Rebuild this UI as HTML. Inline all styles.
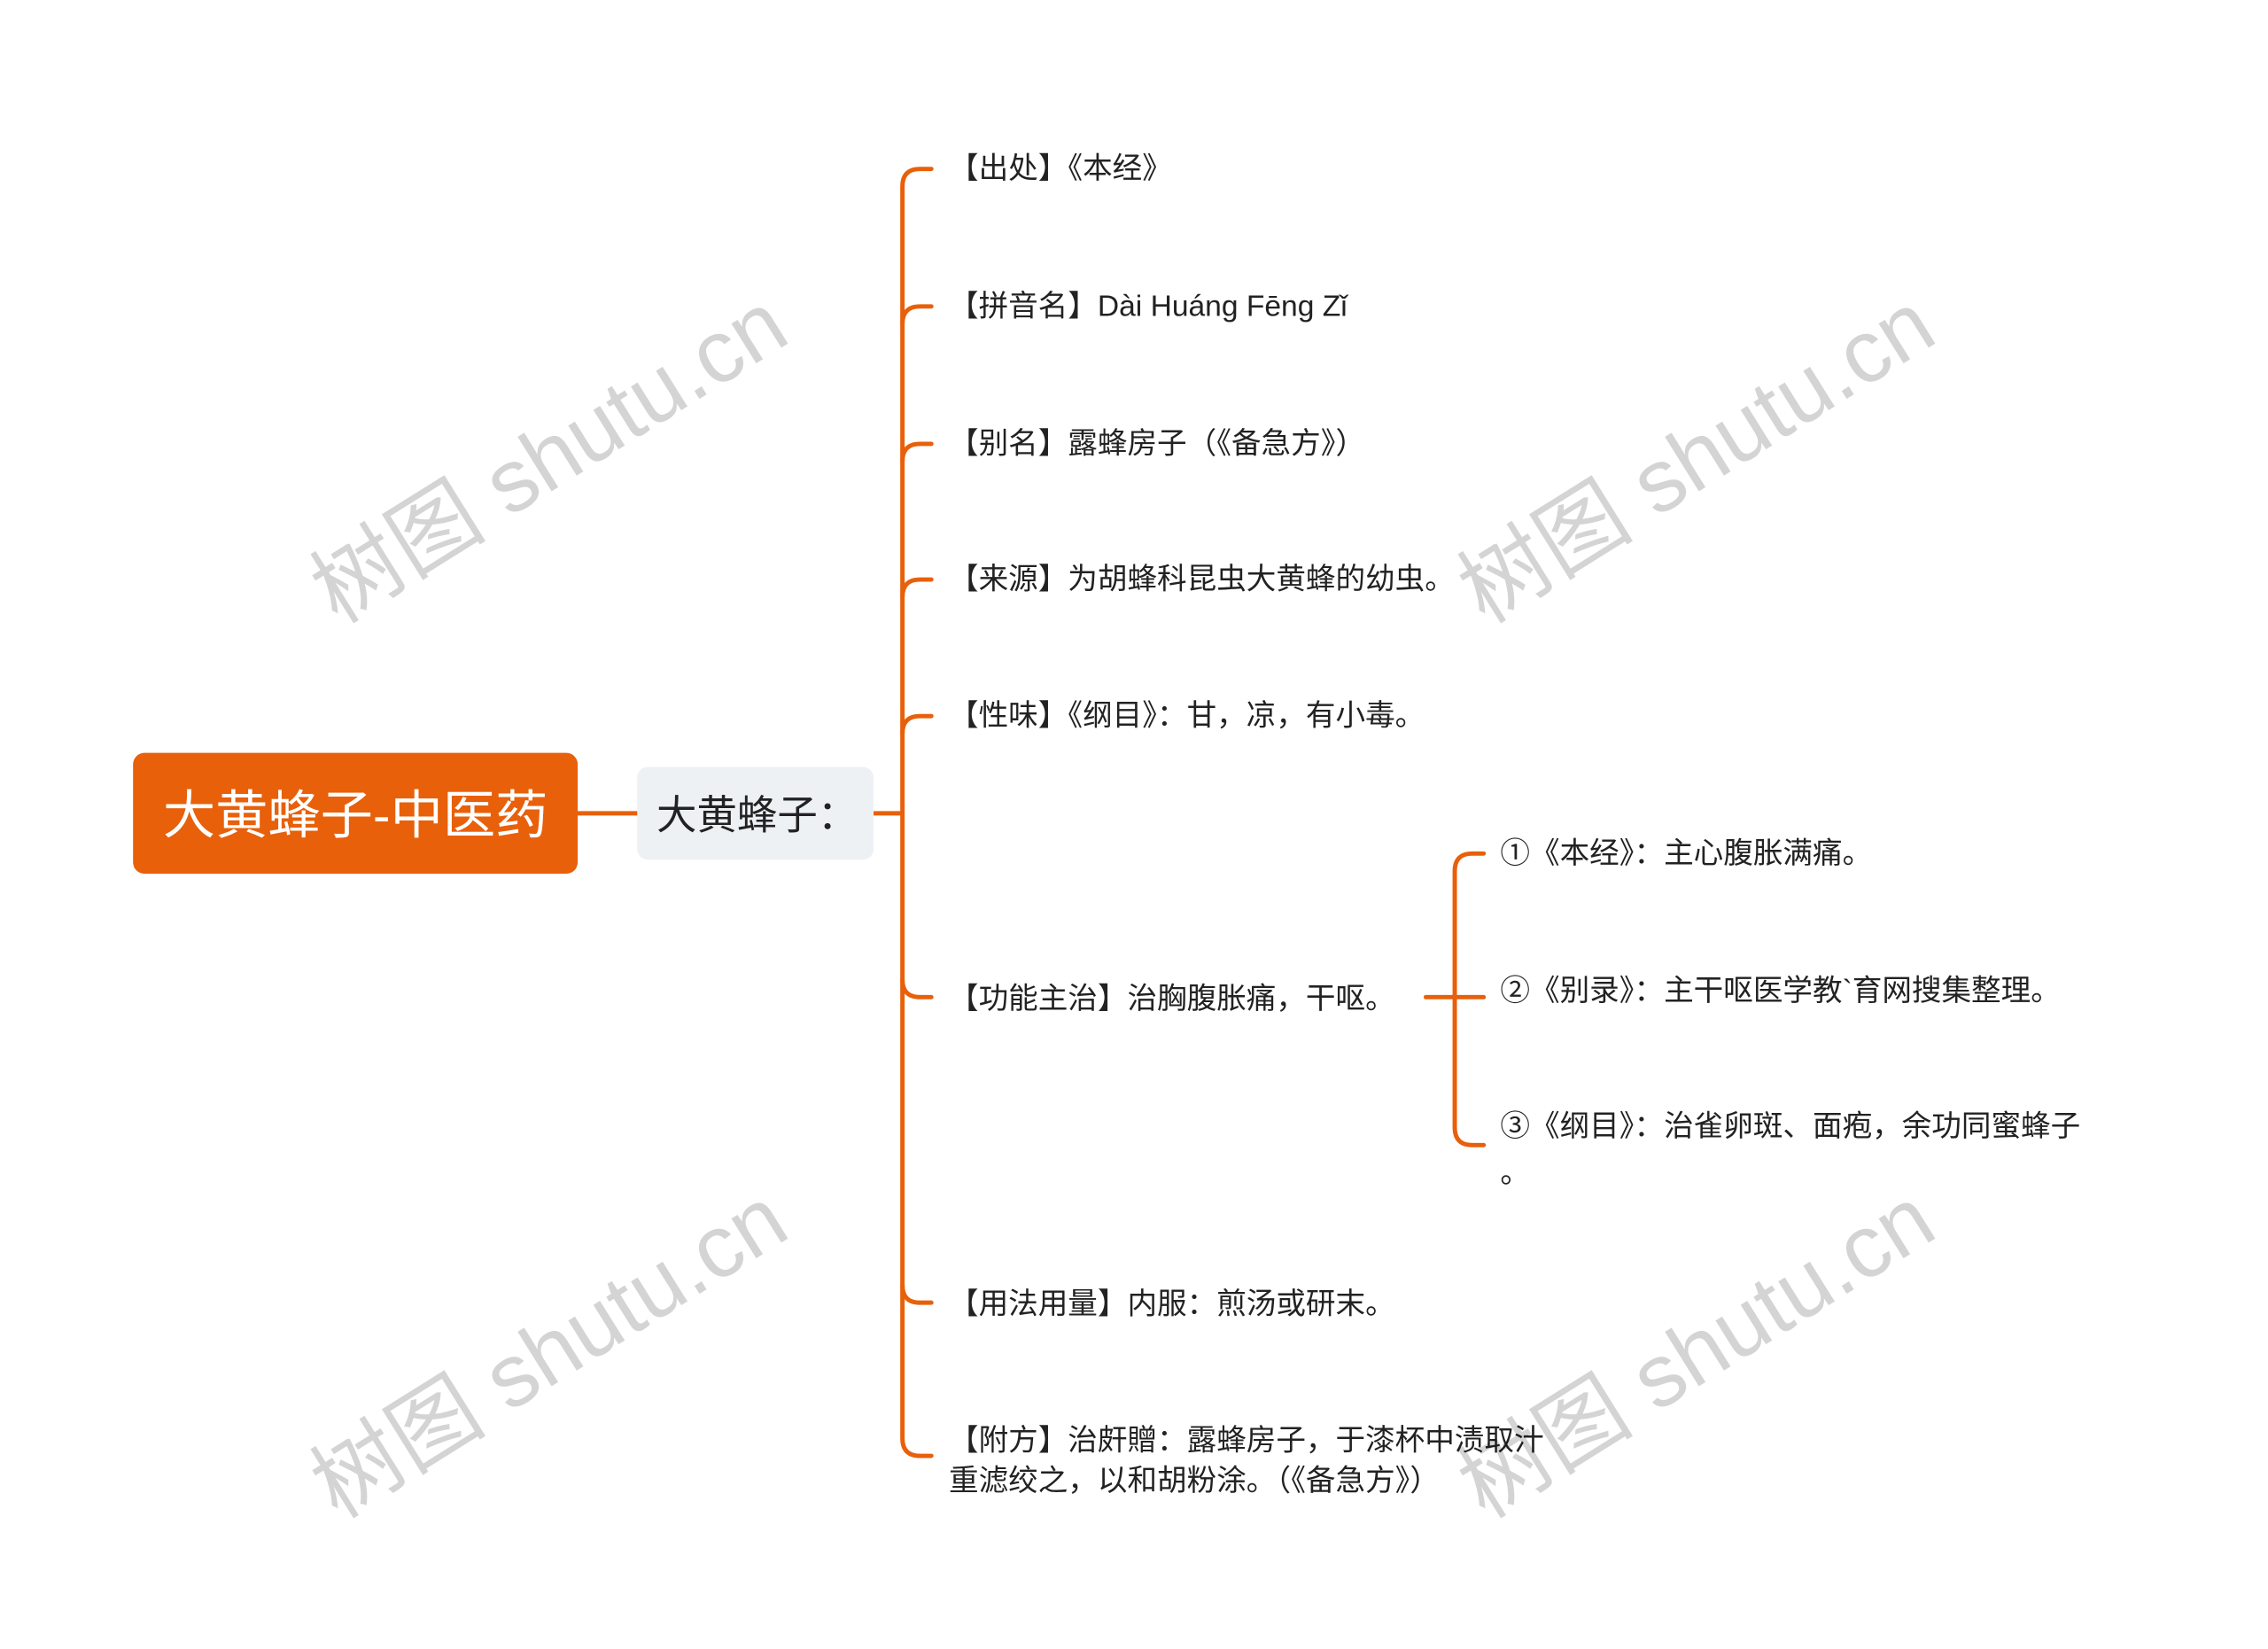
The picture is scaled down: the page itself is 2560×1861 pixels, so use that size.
<!DOCTYPE html>
<html><head><meta charset="utf-8"><style>
html,body{margin:0;padding:0;background:#fff;}
svg{display:block;}
text{font-family:"Liberation Sans","Noto Sans CJK SC",sans-serif;}
</style></head><body>
<svg width="2560" height="1861" viewBox="0 0 2560 1861" xmlns="http://www.w3.org/2000/svg">
<g transform="scale(0.988)">
<g fill="none" stroke="#e8600a" stroke-width="5" stroke-linecap="round">
<line x1="660" y1="929" x2="728" y2="929"/>
<line x1="998" y1="929" x2="1031" y2="929"/>
<path d="M1064 193 H1051 Q1031 193 1031 213 V1643 Q1031 1663 1051 1663 H1064"/>
<path d="M1031 370 Q1031 350 1051 350 H1064"/>
<path d="M1031 527 Q1031 507 1051 507 H1064"/>
<path d="M1031 682 Q1031 662 1051 662 H1064"/>
<path d="M1031 838 Q1031 818 1051 818 H1064"/>
<path d="M1031 1119 Q1031 1139 1051 1139 H1064"/>
<path d="M1031 1468 Q1031 1488 1051 1488 H1064"/>
<line x1="1629" y1="1139" x2="1662" y2="1139"/>
<path d="M1695 975 H1682 Q1662 975 1662 995 V1288 Q1662 1308 1682 1308 H1695"/>
<line x1="1662" y1="1139" x2="1695" y2="1139"/>
</g>
<rect x="152" y="860" width="508" height="138" rx="13" fill="#e8600a"/>
<text x="406" y="931" font-size="60" fill="#fff" text-anchor="middle" dominant-baseline="central">大黄蜂子-中医药</text>
<rect x="728" y="876" width="270" height="106" rx="12" fill="#eef1f4"/>
<text x="750" y="931" font-size="46" fill="#222" dominant-baseline="central">大黄蜂子：</text>
<g font-size="34" fill="#222" dominant-baseline="central">
<text x="1084" y="193">【出处】《本经》</text>
<text x="1084" y="350">【拼音名】Dài Huáng Fēng Zǐ</text>
<text x="1084" y="507">【别名】露蜂房子（《备急方》）</text>
<text x="1084" y="662">【来源】为胡蜂科昆虫大黄蜂的幼虫。</text>
<text x="1084" y="818">【性味】《纲目》：甘，凉，有小毒。</text>
<text x="1084" y="1141">【功能主治】治胸腹胀痛，干呕。</text>
<text x="1084" y="1490">【用法用量】内服：煎汤或研末。</text>
<text x="1084" y="1646">【附方】治皯贈：露蜂房子，于漆杯中渍取汁</text>
<text x="1084" y="1692">重滤绞之，以和胡粉涂。（《备急方》）</text>
<text x="1714" y="975">①《本经》：主心腹胀满痛。</text>
<text x="1714" y="1132">②《别录》：主干呕医学教`育网搜集整理。</text>
<text x="1714" y="1287">③《纲目》：治雀卵斑、面疱，余功同蜜蜂子</text>
<text x="1714" y="1340">。</text>
</g>
</g>
<g font-size="100" fill="#000" fill-opacity="0.17" text-anchor="middle" dominant-baseline="central" style="font-family:'Liberation Serif','Noto Serif CJK SC',serif">
<text transform="translate(620,516) rotate(-32)">树图 shutu.cn</text>
<text transform="translate(1915,516) rotate(-32)">树图 shutu.cn</text>
<text transform="translate(620,1526) rotate(-32)">树图 shutu.cn</text>
<text transform="translate(1915,1526) rotate(-32)">树图 shutu.cn</text>
</g>
</svg>
</body></html>
